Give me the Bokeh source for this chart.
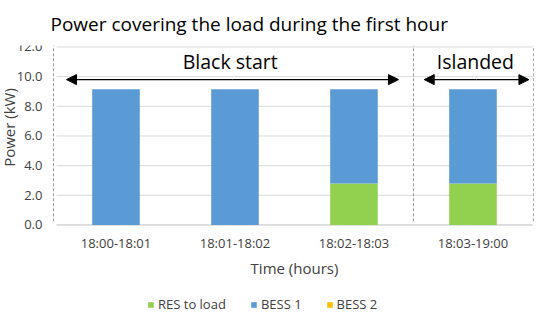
import math
from bokeh.plotting import figure
from bokeh.models import (ColumnDataSource, Range1d, Legend, LegendItem,
                          Arrow, NormalHead, Label)
from bokeh.core.properties import value
from bokeh.embed import file_html
from bokeh.resources import INLINE

# ---- data ----
categories = ["18:00-18:01", "18:01-18:02", "18:02-18:03", "18:03-19:00"]
res_to_load = [0.0, 0.0, 2.8, 2.8]
bess1 = [9.15, 9.15, 6.35, 6.35]
bess2 = [0.0, 0.0, 0.0, 0.0]
series_names = ["RES to load", "BESS 1", "BESS 2"]
series_colors = ["#92D050", "#5B9BD5", "#FFC000"]
y_ticks = [0, 2, 4, 6, 8, 10, 12]
phase_labels = ["Black start", "Islanded"]

FONT = "Open Sans"
TXT = "#404040"
idx = list(range(len(categories)))

src = ColumnDataSource(dict(x=idx, res=res_to_load, b1=bess1, b2=bess2))

p = figure(frame_width=534, frame_height=268, output_backend="svg", toolbar_location=None,
           x_range=Range1d(-0.9706, 3.517), y_range=Range1d(-5.97, 12.1),
           x_axis_location=None, y_axis_location=None,
           min_border_left=0, min_border_right=0, min_border_top=0, min_border_bottom=0)
p.outline_line_color = None
p.grid.visible = False

# gridlines and category axis line
p.segment(x0=-0.5, x1=3.5, y0=y_ticks[1:], y1=y_ticks[1:], line_color="#D9D9D9", line_width=1)
p.segment(x0=-0.5, x1=3.5, y0=0, y1=0, line_color="#BFBFBF", line_width=1)

# stacked bars
rs = p.vbar_stack(["res", "b1", "b2"], x="x", width=0.4, source=src,
                  color=series_colors, line_color=None)

# dashed phase separators
p.segment(x0=[-0.525, 2.5, 3.51], x1=[-0.525, 2.5, 3.51], y0=0.25, y1=12.1,
          line_color="#999999", line_dash="3 2", line_width=1)

# arrows
for (xs, xe) in [(-0.416, 2.374), (2.59, 3.47)]:
    xm = (xs + xe) / 2
    for xend in (xs, xe):
        p.add_layout(Arrow(x_start=xm, x_end=xend, y_start=9.8, y_end=9.8,
                           line_color="black", line_width=1.3,
                           end=NormalHead(size=10, fill_color="black", line_color="black")))

for txt, xc in zip(phase_labels, [0.96, 3.02]):
    p.add_layout(Label(x=xc, y=11.0, text=txt, text_align="center", text_baseline="middle",
                       text_font=FONT, text_font_size="19.5px", text_color="#000000"))

# y tick labels
p.text(x=[-0.618] * len(y_ticks), y=y_ticks, text=[f"{t:.1f}" for t in y_ticks],
       text_align="right", text_baseline="middle", text_font=value(FONT),
       text_font_size="13px", text_color=TXT)
# y axis title
p.text(x=[-0.895], y=[6.57], text=["Power (kW)"], angle=math.pi / 2,
       text_align="center", text_baseline="middle", text_font=value(FONT),
       text_font_size="15px", text_color=TXT)
# x category labels
p.text(x=idx, y=[-1.21] * len(idx), text=categories,
       text_align="center", text_baseline="middle", text_font=value(FONT),
       text_font_size="13px", text_color=TXT)
# x axis title
p.text(x=[1.5], y=[-2.9], text=["Time (hours)"],
       text_align="center", text_baseline="middle", text_font=value(FONT),
       text_font_size="15px", text_color=TXT)

# title
p.title.text = "Power covering the load during the first hour"
p.title.text_font = FONT
p.title.text_font_size = "19px"
p.title.text_font_style = "normal"
p.title.text_color = "#000000"
p.title.align = "left"
p.title.offset = 50
p.title.standoff = 17

legend = Legend(items=[LegendItem(label=n, renderers=[r]) for n, r in zip(series_names, rs)],
                orientation="horizontal", location=(147, 0),
                label_text_font=FONT, label_text_font_size="13px", label_text_color=TXT,
                glyph_width=7, glyph_height=7, label_height=14, spacing=24, label_standoff=4,
                border_line_color=None, background_fill_alpha=0, padding=2, margin=0)
p.add_layout(legend, "center")

open("out.html", "w").write(file_html(p, INLINE))
